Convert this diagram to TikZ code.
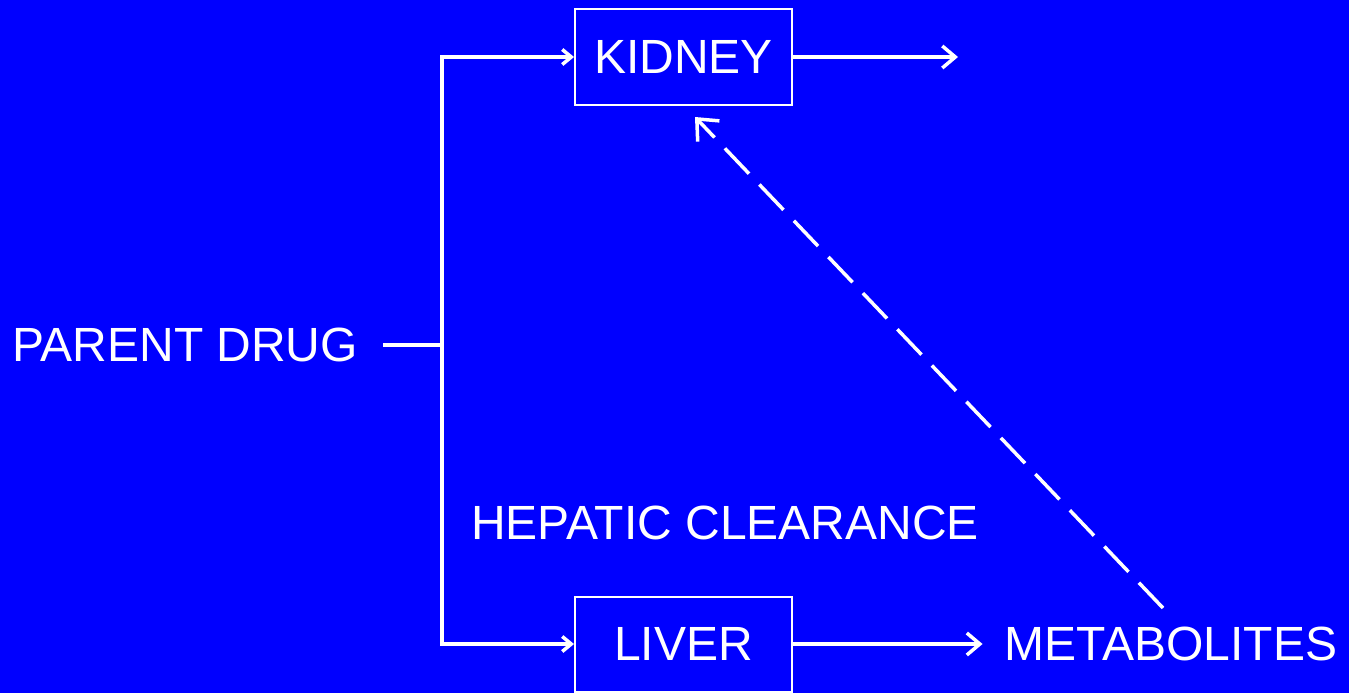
\documentclass[tikz,border=0pt]{standalone}
\usepackage{fontspec}
\setmainfont{Liberation Sans}
\usetikzlibrary{positioning, arrows.meta, backgrounds}
\definecolor{slideblue}{HTML}{0000FF}

\begin{document}
\begin{tikzpicture}[
  x=1pt, y=-1pt,
  every node/.style={text=white, font=\fontsize{48}{52}\selectfont, inner sep=0pt},
  organ/.style={rectangle, draw=white, line width=2pt, minimum width=217pt, minimum height=95pt},
  flow/.style={draw=white, line width=3.5pt},
  into/.style={flow, -{Straight Barb[length=9pt,width=15pt]}},
  outof/.style={flow, -{Straight Barb[length=13pt,width=22pt]}},
  back/.style={flow, dash pattern=on 35pt off 15pt, -{Straight Barb[length=17pt,width=30pt]}}
]
\fill[slideblue] (0,0) rectangle (1349,693);
\useasboundingbox (0,0) rectangle (1349,693);

\node[anchor=west] (parent) at (12,345) {PARENT DRUG};
\node[organ] (kidney) at (683.5,57) {KIDNEY};
\node[organ] (liver) at (683.5,644) {LIVER};
\node (hepatic) at (725,523) {HEPATIC CLEARANCE};
\node (metab) at (1171,644) {METABOLITES};

% branch point and free ends
\coordinate (split) at (442,345);
\coordinate (kout) at (958,57);

\draw[flow] (383,345) -- (split);
\draw[into] (split) |- (kidney.west);
\draw[into] (split) |- (liver.west);
\draw[outof] (kidney.east) -- (kout);
\draw[outof] (liver.east) -- ([xshift=-22pt]metab.west);
\draw[back] (1163,608) -- (695,117);
\end{tikzpicture}
\end{document}
